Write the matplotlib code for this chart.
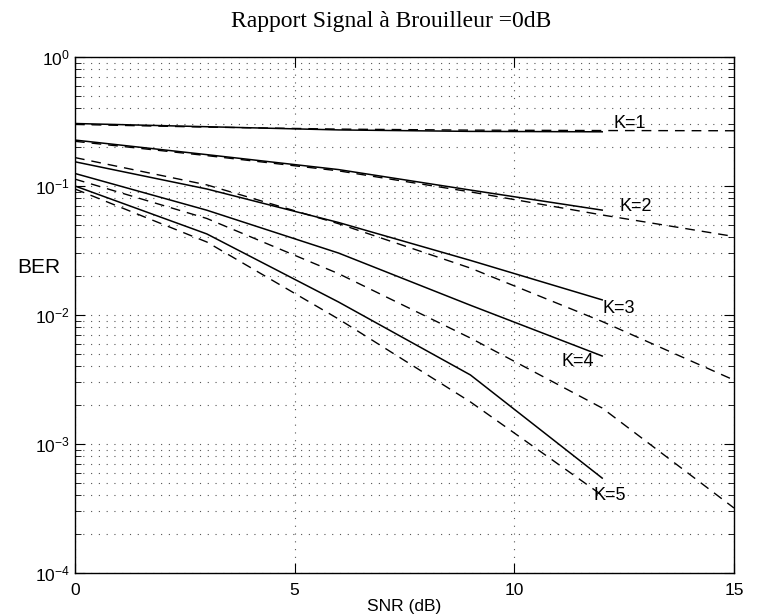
import matplotlib
matplotlib.use("Agg")
import matplotlib.pyplot as plt
from matplotlib.ticker import LogLocator, NullFormatter, FixedLocator

# ---- data ----
snr_sim = [0, 3, 6, 9, 12]
snr_theo = [0, 3, 6, 9, 12, 15]
snr_theo_k5 = [0, 3, 6, 9, 12]

ber_sim_k1 = [0.305, 0.288, 0.272, 0.265, 0.263]
ber_sim_k2 = [0.227, 0.175, 0.134, 0.093, 0.065]
ber_sim_k3 = [0.154, 0.0948, 0.0521, 0.0265, 0.0131]
ber_sim_k4 = [0.125, 0.0649, 0.0302, 0.0119, 0.00481]
ber_sim_k5 = [0.100, 0.0425, 0.0126, 0.00343, 0.000544]

ber_theo_k1 = [0.300, 0.286, 0.276, 0.271, 0.269, 0.268]
ber_theo_k2 = [0.222, 0.172, 0.131, 0.090, 0.0596, 0.0406]
ber_theo_k3 = [0.166, 0.102, 0.051, 0.0231, 0.0089, 0.00313]
ber_theo_k4 = [0.113, 0.056, 0.0209, 0.00663, 0.0019, 0.000319]
ber_theo_k5 = [0.0948, 0.0368, 0.0093, 0.00212, 0.00040]

curve_labels = ["K=1", "K=2", "K=3", "K=4", "K=5"]
label_x = [12.25, 12.4, 12.0, 11.08, 11.8]
label_y = [0.303, 0.0691, 0.01113, 0.00434, 0.000402]

title = "Rapport Signal à Brouilleur =0dB"
xlabel = "SNR (dB)"
ylabel = "BER"
xticks = [0, 5, 10, 15]

SANS = ["Liberation Sans", "DejaVu Sans"]

# ---- figure ----
fig = plt.figure(figsize=(7.63, 6.16), dpi=100)
ax = fig.add_axes([0.0983, 0.0698, 0.8637, 0.8377])

sims = [ber_sim_k1, ber_sim_k2, ber_sim_k3, ber_sim_k4, ber_sim_k5]
theos = [ber_theo_k1, ber_theo_k2, ber_theo_k3, ber_theo_k4]

for s in sims:
    ax.plot(snr_sim, s, color="black", lw=1.1, ls="-")
for t in theos:
    ax.plot(snr_theo, t, color="black", lw=1.0, ls=(0, (7, 5)))
ax.plot(snr_theo_k5, ber_theo_k5, color="black", lw=1.0, ls=(0, (7, 5)))

for lab, lx, ly in zip(curve_labels, label_x, label_y):
    ax.text(lx, ly, lab, ha="left", va="center", fontsize=13, family=SANS)

ax.set_yscale("log")
ax.set_xlim(0, 15)
ax.set_ylim(1e-4, 1)
ax.xaxis.set_major_locator(FixedLocator(xticks))
ax.yaxis.set_major_locator(LogLocator(base=10, numticks=10))
ax.yaxis.set_minor_locator(LogLocator(base=10, subs=range(2, 10), numticks=20))
ax.yaxis.set_minor_formatter(NullFormatter())

ax.grid(True, which="major", axis="both", color="#555555", ls=(0, (1, 6)), lw=0.8)
ax.grid(True, which="minor", axis="y", color="#555555", ls=(0, (1, 6)), lw=0.8)

ax.tick_params(which="major", direction="in", top=True, right=True, length=7,
               labelsize=12.5)
ax.tick_params(axis="x", which="major", pad=7)
ax.tick_params(which="minor", direction="in", top=True, right=True, length=4)
for lab in ax.get_xticklabels() + ax.get_yticklabels():
    lab.set_family(SANS)

for sp in ax.spines.values():
    sp.set_linewidth(1.0)

ax.set_xlabel(xlabel, fontsize=12.5, family=SANS, labelpad=1)

fig.text(39 / 763, 1 - 267 / 616, ylabel, fontsize=15, ha="center", va="center",
         family=SANS)
fig.text(391 / 763, 1 - 22 / 616, title, fontsize=17, ha="center", va="center",
         family=["Liberation Serif", "DejaVu Serif"])

fig.savefig("out.png", dpi=100)
